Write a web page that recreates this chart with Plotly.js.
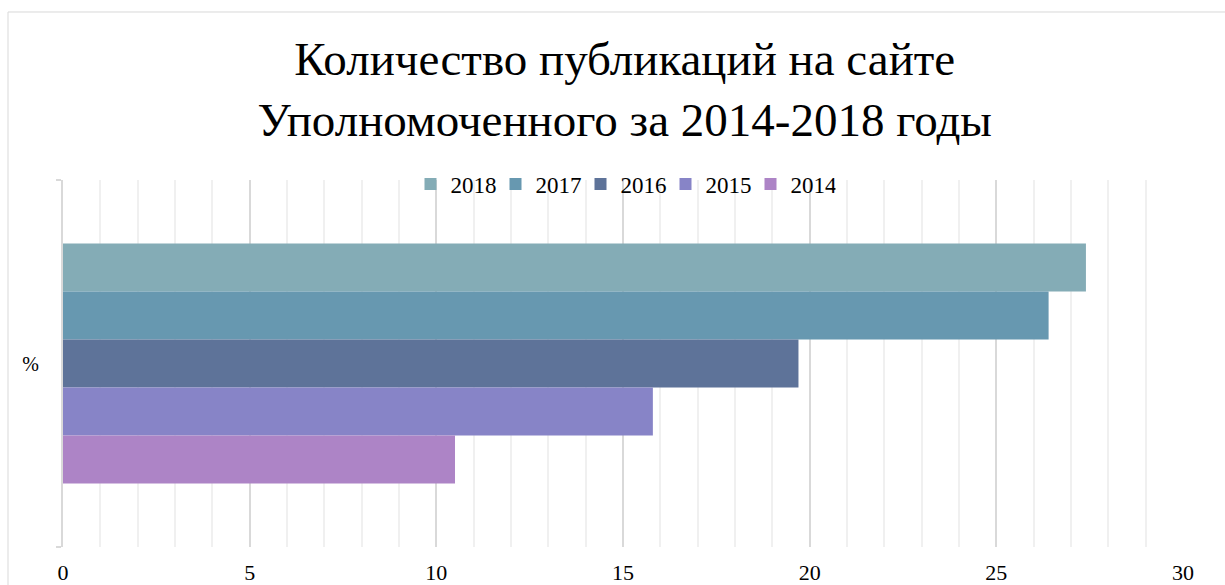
<!DOCTYPE html>
<html>
<head>
<meta charset="utf-8">
<script src="https://cdn.plot.ly/plotly-3.0.1.min.js"></script>
<style>html,body{margin:0;padding:0;background:#fff;}#chart{width:1225px;height:585px;}</style>
</head>
<body>
<div id="chart"></div>
<script>
const categories = ["%"];
const seriesNames = ["2018", "2017", "2016", "2015", "2014"];
const seriesValues = [[27.4], [26.4], [19.7], [15.8], [10.5]];
const seriesColors = ["#84acb6", "#6798b0", "#5e7399", "#8784c7", "#ad84c6"];
const xTicks = [0, 5, 10, 15, 20, 25, 30];

const traces = seriesNames.map((name, i) => ({
  type: "bar",
  orientation: "h",
  name: name,
  y: categories,
  x: seriesValues[i],
  marker: {color: seriesColors[i], line: {width: 0}},
  hoverinfo: "x+name"
}));

const layout = {
  width: 1225, height: 585,
  paper_bgcolor: "#fff", plot_bgcolor: "#fff",
  margin: {l: 63, r: 42, t: 180, b: 38},
  font: {family: "Liberation Serif, Times New Roman, serif", color: "#000"},
  title: {
    text: "Количество публикаций на сайте<br>Уполномоченного за 2014-2018 годы",
    font: {size: 47, family: "Liberation Serif, Times New Roman, serif", color: "#000"},
    x: 0.51, xanchor: "center", y: 0.872, yanchor: "top"
  },
  barmode: "group",
  bargap: 0.346,
  bargroupgap: 0,
  showlegend: true,
  legend: {
    orientation: "h", x: 0.5, xanchor: "center", y: 0.989, yanchor: "middle",
    font: {size: 23}, traceorder: "normal", itemwidth: 30,
    entrywidth: 40, entrywidthmode: "pixels", bgcolor: "rgba(0,0,0,0)"
  },
  xaxis: {
    range: [0, 30], tickvals: xTicks, ticktext: xTicks.map(String),
    showgrid: true, gridcolor: "#d9d9d9", gridwidth: 2,
    minor: {dtick: 1, tick0: 0, showgrid: true, gridcolor: "#f0f0f0", gridwidth: 2},
    zeroline: false, showline: false, ticks: "",
    tickfont: {size: 22}, ticklabelstandoff: 10, fixedrange: true
  },
  yaxis: {
    type: "category", autorange: "reversed",
    showline: true, linecolor: "#d9d9d9", linewidth: 2,
    ticks: "outside", tickson: "boundaries", ticklen: 5, tickcolor: "#d9d9d9", tickwidth: 2,
    showgrid: false, zeroline: false,
    tickfont: {size: 20}, ticklabelstandoff: 18, fixedrange: true
  },
  shapes: [{
    type: "rect", xref: "paper", yref: "paper",
    x0: -0.0491, x1: 1.05, y0: -0.2, y1: 1.4578,
    line: {color: "#d9d9d9", width: 1}, fillcolor: "rgba(0,0,0,0)", layer: "below"
  }]
};

Plotly.newPlot("chart", traces, layout, {displayModeBar: false, staticPlot: true});
</script>
</body>
</html>
